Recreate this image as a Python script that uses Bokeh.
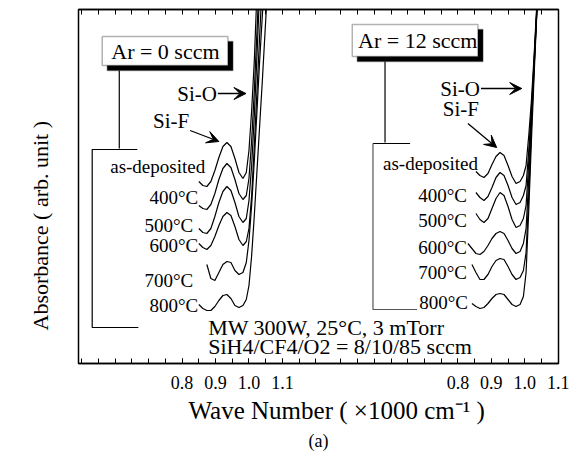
import numpy as np
from bokeh.plotting import figure
from bokeh.models import (Range1d, LinearAxis, FixedTicker, Label, Arrow,
                          VeeHead, BoxAnnotation, Title)
from bokeh.embed import file_html
from bokeh.resources import INLINE

nan = float("nan")

# ---------------- data (wave number x1000 cm^-1, absorbance arb. unit) ----------
temps = ["as-deposited", "400°C", "500°C", "600°C", "700°C", "800°C"]

# Left panel : Ar = 0 sccm
wn_left = [0.850, 0.862, 0.874, 0.886, 0.898, 0.910, 0.922, 0.934, 0.946, 0.958,
           0.970, 0.982, 0.992, 1.000, 1.008, 1.016, 1.024, 1.032, 1.040, 1.050, 1.060]
left_asdep = [1.82, 1.78, 1.77, 1.82, 1.93, 2.06, 2.17, 2.21, 2.17, 2.05,
              1.91, 1.85, 1.91, 2.13, 2.53, 3.03, 3.73, nan, nan, nan, nan]
left_400 = [1.58, 1.55, 1.54, 1.59, 1.70, 1.84, 1.95, 2.00, 1.96, 1.84,
            1.70, 1.64, 1.68, 1.85, 2.23, 2.73, 3.33, 3.93, nan, nan, nan]
left_500 = [1.35, 1.31, 1.30, 1.35, 1.47, 1.61, 1.72, 1.77, 1.73, 1.61,
            1.47, 1.41, 1.45, 1.63, 1.98, 2.48, 3.08, 3.73, nan, nan, nan]
left_600 = [1.20, 1.16, 1.14, 1.18, 1.27, 1.38, 1.47, 1.51, 1.48, 1.37,
            1.24, 1.18, 1.22, 1.35, 1.68, 2.18, 2.73, 3.28, 3.83, nan, nan]
left_700 = [nan, nan, 0.99, 0.85, 0.83, 0.91, 0.99, 1.02, 1.01, 0.93,
            0.89, 0.91, 1.01, 1.23, 1.58, 2.03, 2.53, 3.03, 3.48, 4.03, nan]
left_800 = [0.59, 0.55, 0.53, 0.53, 0.57, 0.63, 0.68, 0.69, 0.65, 0.58,
            0.56, 0.58, 0.64, 0.78, 1.08, 1.48, 1.93, 2.38, 2.83, 3.43, 4.03]

# Right panel : Ar = 12 sccm
wn_right = [0.830, 0.842, 0.854, 0.866, 0.878, 0.890, 0.902, 0.914, 0.926, 0.938,
            0.950, 0.962, 0.974, 0.986, 0.996, 1.004, 1.012, 1.020, 1.028, 1.036, 1.044]
right_asdep = [nan, nan, 1.92, 1.88, 1.86, 1.90, 1.99, 2.07, 2.11, 2.08,
               1.98, 1.87, 1.80, 1.82, 1.88, 1.98, 2.28, 2.63, 3.08, 3.58, 4.03]
right_400 = [nan, nan, 1.71, 1.66, 1.63, 1.67, 1.76, 1.86, 1.91, 1.88,
             1.78, 1.66, 1.59, 1.61, 1.68, 1.78, 2.13, 2.55, 3.03, 3.55, 4.03]
right_500 = [nan, nan, 1.50, 1.44, 1.41, 1.45, 1.55, 1.65, 1.71, 1.68,
             1.57, 1.44, 1.36, 1.38, 1.45, 1.58, 2.01, 2.50, 3.00, 3.53, 4.03]
right_600 = [1.20, 1.15, 1.10, 1.09, 1.12, 1.18, 1.25, 1.30, 1.32, 1.30,
             1.23, 1.15, 1.10, 1.12, 1.20, 1.35, 1.85, 2.43, 2.97, 3.51, 4.03]
right_700 = [nan, 0.99, 0.91, 0.84, 0.84, 0.89, 0.97, 1.03, 1.05, 1.04,
             0.97, 0.89, 0.84, 0.86, 0.93, 1.11, 1.68, 2.35, 2.95, 3.51, 4.03]
right_800 = [nan, 0.60, 0.57, 0.55, 0.56, 0.60, 0.65, 0.69, 0.70, 0.69,
             0.64, 0.59, 0.57, 0.59, 0.67, 0.91, 1.53, 2.23, 2.88, 3.49, 4.03]

tick_values = [0.8, 0.9, 1.0, 1.1]
tick_labels = ["0.8", "0.9", "1.0", "1.1"]

left_series = [left_asdep, left_400, left_500, left_600, left_700, left_800]
right_series = [right_asdep, right_400, right_500, right_600, right_700, right_800]

# ---------------- layout -----------------
FONT = "Liberation Serif"
OFFSET = 0.825          # shift of the right panel along the shared frame
X0, X1 = 0.49, 1.926

p = figure(width=571, height=466, output_backend="svg", toolbar_location=None,
           x_range=Range1d(X0, X1), y_range=Range1d(0, 3.54),
           min_border_left=78, min_border_right=13, min_border_top=9,
           min_border_bottom=103, background_fill_color="white",
           border_fill_color="white", outline_line_color="black",
           outline_line_width=1.5)
p.extra_x_ranges = {"right": Range1d(X0 - OFFSET, X1 - OFFSET)}
p.grid.visible = False
p.yaxis.visible = False

right_ticks = [round(t + OFFSET, 3) for t in tick_values]
major = tick_values + right_ticks
overrides = {}
for t, s in zip(tick_values, tick_labels):
    overrides[t] = s
for t, s in zip(right_ticks, tick_labels):
    overrides[t] = s
grid = [round(0.50 + 0.05 * i, 3) for i in range(15)] + \
       [round(0.45 + OFFSET + 0.05 * i, 3) for i in range(14)]

xa = p.below[0]
xa.ticker = FixedTicker(ticks=major, minor_ticks=grid)
xa.major_label_overrides = overrides
xa.major_tick_in = 5
xa.major_tick_out = 0
xa.minor_tick_in = 5
xa.minor_tick_out = 0
xa.axis_line_width = 1.5
xa.major_label_standoff = 12
xa.major_label_text_font = FONT
xa.major_label_text_font_size = "18px"
xa.major_label_text_color = "black"

top = LinearAxis(ticker=FixedTicker(ticks=[], minor_ticks=grid),
                 minor_tick_in=5, minor_tick_out=0, major_tick_in=0,
                 major_tick_out=0, major_label_standoff=0, axis_line_width=1.5)
p.add_layout(top, "above")

p.add_layout(Title(text="Wave Number ( ×1000 cm⁻¹ )", align="left", offset=110,
                   standoff=7, text_font=FONT, text_font_size="25px",
                   text_font_style="normal", text_color="black"), "below")
p.add_layout(Title(text="(a)", align="center", standoff=2,
                   text_font=FONT, text_font_size="18px",
                   text_font_style="normal", text_color="black"), "below")
p.add_layout(Title(text="Absorbance ( arb. unit )", align="left", offset=33,
                   standoff=51, text_font=FONT, text_font_size="22px",
                   text_font_style="normal", text_color="black"), "left")

# ---------------- spectra -----------------
for ys in left_series:
    p.line(wn_left, np.array(ys, dtype=float), line_color="black", line_width=1.2)
for ys in right_series:
    p.line(wn_right, np.array(ys, dtype=float), line_color="black", line_width=1.2,
           x_range_name="right")


def text(x, y, s, size, align="left", rng="default"):
    p.add_layout(Label(x=x, y=y, text=s, text_font=FONT,
                       text_font_size=f"{size}px", text_align=align,
                       text_baseline="middle", text_color="black",
                       x_range_name=rng))


def box(l, r, t, b, rng, fill):
    p.add_layout(BoxAnnotation(left=l, right=r, top=t, bottom=b, fill_color=fill,
                               fill_alpha=1.0, line_color="black", line_width=1.5,
                               x_range_name=rng))


def arrow(x0, y0, x1, y1, rng):
    p.add_layout(Arrow(end=VeeHead(size=12, fill_color="black", line_color="black"),
                       x_start=x0, y_start=y0, x_end=x1, y_end=y1,
                       line_width=1.3, line_color="black", x_range_name=rng))


def bracket(xs, ys, rng, color="black"):
    p.line(xs, ys, line_color=color, line_width=1.2, x_range_name=rng)


# left panel annotations
box(0.576, 0.952, 3.22, 2.93, "default", "black")
box(0.561, 0.937, 3.27, 2.98, "default", "white")
text(0.750, 3.12, "Ar = 0 sccm", 22, "center")
bracket([0.612, 0.612], [2.93, 2.15], "default")
bracket([0.666, 0.531, 0.531, 0.669], [2.14, 2.14, 0.36, 0.36], "default")
text(0.904, 2.70, "Si-O", 21, "right")
arrow(0.907, 2.70, 0.991, 2.70, "default")
text(0.713, 2.43, "Si-F", 21, "left")
arrow(0.824, 2.33, 0.910, 2.22, "default")
left_label_pos = [(0.869, 1.97), (0.848, 1.66), (0.833, 1.38),
                  (0.848, 1.18), (0.833, 0.83), (0.848, 0.58)]
for name, (lx, ly) in zip(temps, left_label_pos):
    text(lx, ly, name, 19, "right")
text(0.878, 0.36, "MW 300W, 25°C, 3 mTorr", 22, "left")
text(0.878, 0.17, "SiH4/CF4/O2 = 8/10/85 sccm", 22, "left")

# right panel annotations
box(0.499, 0.875, 3.34, 3.02, "right", "black")
box(0.484, 0.860, 3.39, 3.07, "right", "white")
text(0.680, 3.23, "Ar = 12 sccm", 22, "center", "right")
bracket([0.582, 0.582], [3.02, 2.21], "right")
bracket([0.657, 0.546], [2.20, 2.20], "right")
bracket([0.546, 0.546, 0.678], [2.20, 0.54, 0.54], "right", "#555555")
text(0.866, 2.75, "Si-O", 21, "right", "right")
arrow(0.869, 2.75, 0.991, 2.75, "right")
text(0.755, 2.55, "Si-F", 21, "left", "right")
arrow(0.830, 2.40, 0.916, 2.16, "right")
right_label_pos = [(0.860, 2.00), (0.827, 1.68), (0.827, 1.43),
                   (0.827, 1.16), (0.827, 0.91), (0.830, 0.61)]
for name, (lx, ly) in zip(temps, right_label_pos):
    text(lx, ly, name, 19, "right", "right")

open("out.html", "w").write(file_html(p, INLINE))
